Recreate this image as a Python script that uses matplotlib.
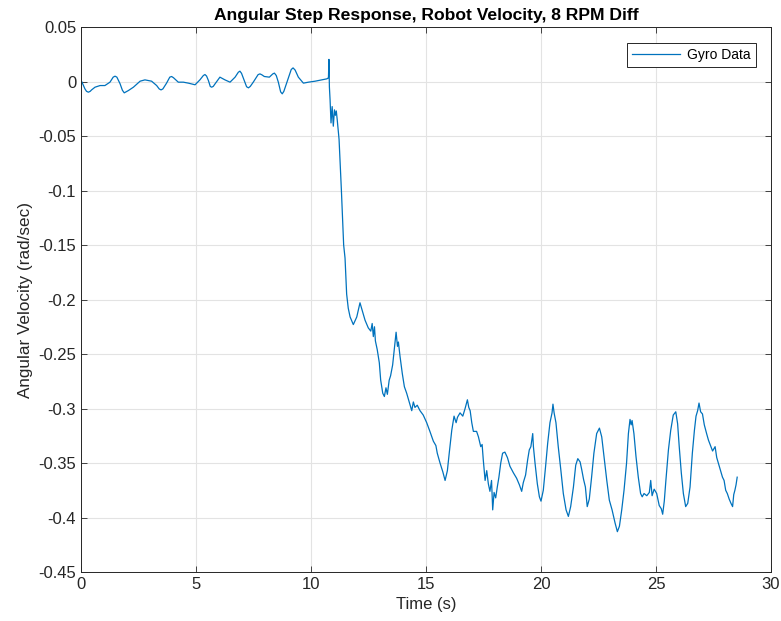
import matplotlib.pyplot as plt

# gyro trace (time in s, angular velocity in rad/sec)
# before the step: small wobble around zero
t_rest = [0.00, 0.03, 0.17, 0.24, 0.32, 0.40, 0.46, 0.61, 0.83, 1.04,
          1.26, 1.40, 1.48, 1.56, 1.70, 1.80, 1.88, 1.96, 2.06, 2.28,
          2.57, 2.78, 3.07, 3.29, 3.40, 3.48, 3.56, 3.72, 3.86, 3.94,
          4.02, 4.23, 4.45, 4.67, 4.96, 5.17, 5.32, 5.39, 5.46, 5.54,
          5.62, 5.68, 5.75, 5.83, 6.04, 6.26, 6.48, 6.70, 6.84, 6.91,
          6.98, 7.10, 7.20, 7.28, 7.36, 7.49, 7.70, 7.78, 7.86, 7.97,
          8.19, 8.34, 8.41, 8.49, 8.58, 8.68, 8.75, 8.82, 8.93, 9.14,
          9.22, 9.31, 9.45, 9.67, 9.89, 10.18, 10.47, 10.68]
w_rest = [-0.002, 0.000, -0.0067, -0.009, -0.0098, -0.009, -0.0077, -0.0052, -0.0037, -0.0037,
          -0.0006, 0.004, 0.0049, 0.004, -0.0021, -0.008, -0.0104, -0.0095, -0.0083, -0.0052,
          0.0003, 0.0015, 0.0003, -0.0037, -0.0068, -0.0077, -0.0068, -0.0015, 0.004, 0.0046,
          0.0035, -0.0006, -0.0006, -0.0015, -0.003, 0.0015, 0.0055, 0.0064, 0.005, 0.0009,
          -0.0045, -0.0052, -0.0045, -0.0021, 0.004, 0.0015, -0.0006, 0.004, 0.0085, 0.0095,
          0.0075, 0.0009, -0.0048, -0.0058, -0.0045, -0.0006, 0.0063, 0.007, 0.0062, 0.0046,
          0.004, 0.007, 0.0077, 0.0055, -0.0006, -0.0095, -0.0113, -0.009, -0.0021, 0.011,
          0.0125, 0.0105, 0.004, -0.0015, -0.0006, 0.0003, 0.0015, 0.0024]

# step and fall
t_step = [10.74, 10.76, 10.78, 10.80, 10.83, 10.87, 10.92, 10.97, 11.02, 11.06, 11.10, 11.14,
          11.22, 11.32, 11.42, 11.48, 11.55, 11.62, 11.70, 11.84, 11.99, 12.13, 12.20, 12.35,
          12.49, 12.60, 12.66, 12.71, 12.76, 12.80, 12.88, 12.97, 13.03, 13.12, 13.19, 13.26,
          13.32, 13.40, 13.46, 13.55, 13.62, 13.70, 13.76, 13.80, 13.87, 13.97, 14.06, 14.16,
          14.27, 14.38, 14.45, 14.52, 14.62, 14.74, 14.88, 15.03, 15.17, 15.32, 15.43, 15.49,
          15.61, 15.73, 15.83, 15.93, 16.01, 16.12, 16.22, 16.31, 16.37, 16.48, 16.60, 16.70,
          16.80, 16.86, 16.92, 16.99, 17.06, 17.20, 17.28, 17.38, 17.44, 17.49, 17.57, 17.64,
          17.71, 17.78, 17.85, 17.90, 17.96, 18.03, 18.10, 18.17, 18.25, 18.33, 18.43, 18.54]
w_step = [0.003, 0.004, 0.0203, -0.005, -0.017, -0.038, -0.023, -0.041, -0.026, -0.031, -0.027, -0.035,
          -0.053, -0.099, -0.150, -0.162, -0.195, -0.208, -0.216, -0.223, -0.216, -0.203, -0.208, -0.219,
          -0.226, -0.229, -0.222, -0.234, -0.225, -0.238, -0.246, -0.258, -0.274, -0.286, -0.289, -0.281,
          -0.287, -0.274, -0.270, -0.260, -0.246, -0.230, -0.243, -0.239, -0.252, -0.268, -0.280, -0.286,
          -0.294, -0.302, -0.294, -0.299, -0.297, -0.302, -0.306, -0.313, -0.321, -0.330, -0.334, -0.341,
          -0.350, -0.358, -0.366, -0.357, -0.341, -0.320, -0.307, -0.313, -0.308, -0.304, -0.307, -0.300,
          -0.292, -0.299, -0.302, -0.313, -0.321, -0.321, -0.326, -0.335, -0.333, -0.347, -0.366, -0.357,
          -0.369, -0.376, -0.366, -0.393, -0.377, -0.382, -0.372, -0.363, -0.350, -0.341, -0.340, -0.345]

# oscillation after the step
t_osc = [18.65, 18.80, 18.94, 19.06, 19.16, 19.23, 19.33, 19.42, 19.49, 19.56, 19.64, 19.67,
         19.74, 19.84, 19.93, 20.00, 20.10, 20.20, 20.29, 20.39, 20.48, 20.52, 20.57, 20.65,
         20.75, 20.86, 20.97, 21.09, 21.19, 21.29, 21.41, 21.51, 21.60, 21.70, 21.77, 21.85,
         21.93, 22.01, 22.10, 22.20, 22.30, 22.42, 22.54, 22.64, 22.74, 22.86, 22.97, 23.09,
         23.22, 23.32, 23.41, 23.51, 23.61, 23.72, 23.80, 23.87, 23.92, 23.96, 24.04, 24.13,
         24.23, 24.33, 24.40, 24.48, 24.60, 24.71, 24.77, 24.83, 24.92, 25.03, 25.14, 25.23,
         25.29, 25.36, 25.43, 25.54, 25.64, 25.75, 25.86, 25.94, 26.01, 26.10, 26.19, 26.29,
         26.38, 26.48, 26.58, 26.67, 26.74, 26.81, 26.87, 26.94, 27.02, 27.10, 27.20, 27.28,
         27.37, 27.46, 27.57, 27.64, 27.71, 27.78, 27.89, 27.96, 28.03, 28.10, 28.18, 28.26,
         28.33, 28.38, 28.43, 28.48, 28.53]
w_osc = [-0.353, -0.359, -0.364, -0.370, -0.376, -0.368, -0.361, -0.347, -0.338, -0.335, -0.323, -0.335,
         -0.350, -0.369, -0.381, -0.385, -0.375, -0.353, -0.332, -0.313, -0.304, -0.296, -0.304, -0.313,
         -0.335, -0.356, -0.378, -0.393, -0.399, -0.390, -0.372, -0.352, -0.346, -0.349, -0.356, -0.365,
         -0.372, -0.390, -0.383, -0.363, -0.341, -0.323, -0.318, -0.326, -0.344, -0.366, -0.384, -0.393,
         -0.405, -0.413, -0.408, -0.393, -0.375, -0.350, -0.323, -0.310, -0.315, -0.311, -0.323, -0.344,
         -0.363, -0.378, -0.381, -0.378, -0.380, -0.377, -0.366, -0.380, -0.374, -0.378, -0.389, -0.392,
         -0.397, -0.385, -0.366, -0.338, -0.320, -0.306, -0.303, -0.314, -0.335, -0.359, -0.378, -0.390,
         -0.387, -0.372, -0.341, -0.320, -0.307, -0.302, -0.295, -0.303, -0.305, -0.315, -0.323, -0.329,
         -0.334, -0.339, -0.335, -0.345, -0.350, -0.355, -0.363, -0.366, -0.375, -0.378, -0.383, -0.387,
         -0.390, -0.379, -0.375, -0.370, -0.363]

x_ticks = [0, 5, 10, 15, 20, 25, 30]
y_ticks = [0.05, 0, -0.05, -0.1, -0.15, -0.2, -0.25, -0.3, -0.35, -0.4, -0.45]
y_tick_labels = ['0.05', '0', '-0.05', '-0.1', '-0.15', '-0.2', '-0.25',
                 '-0.3', '-0.35', '-0.4', '-0.45']

time_s = t_rest + t_step + t_osc
gyro = w_rest + w_step + w_osc

plt.rcParams['font.family'] = ['Liberation Sans', 'DejaVu Sans']

fig = plt.figure(figsize=(7.81, 6.21), dpi=100)
ax = fig.add_axes([0.1037, 0.0789, 0.8835, 0.8776])

ax.plot(time_s, gyro, color='#0072BD', linewidth=0.9, label='Gyro Data')

ax.set_xlim(0, 30)
ax.set_ylim(-0.45, 0.05)
ax.set_xticks(x_ticks)
ax.set_yticks(y_ticks)
ax.set_yticklabels(y_tick_labels)
ax.tick_params(direction='in', top=True, right=True, labelsize=12,
               colors='#262626', length=4, width=0.6)
ax.grid(True, color='#e3e3e3', linewidth=0.8)
ax.set_axisbelow(True)
for s in ax.spines.values():
    s.set_color('#262626')
    s.set_linewidth(0.7)

ax.set_xlabel('Time (s)', fontsize=12, color='#262626')
ax.set_ylabel('Angular Velocity (rad/sec)', fontsize=12.3, color='#262626')
ax.set_title('Angular Step Response, Robot Velocity, 8 RPM Diff',
             fontsize=12.6, fontweight='bold', color='black', pad=5)

leg = ax.legend(loc='upper right', fontsize=10, fancybox=False, framealpha=1,
                edgecolor='#262626', handlelength=3.5, borderpad=0.35,
                borderaxespad=0, handletextpad=0.5,
                bbox_to_anchor=(0.978, 0.971))
leg.get_frame().set_linewidth(0.7)

fig.savefig('out.png', dpi=100)
